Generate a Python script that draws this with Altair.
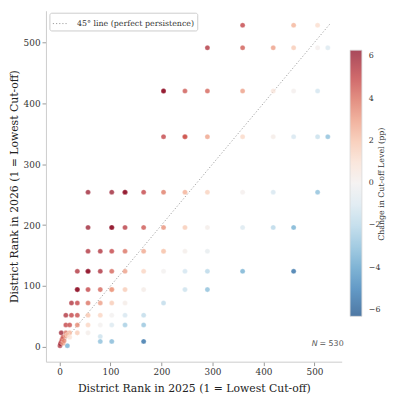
import altair as alt
import pandas as pd

# ---- data (rank 2025, rank 2026, change in cut-off pp) ----
x_rank_2025 = [
    359, 459, 506,
    290, 359, 419, 459, 506, 526,
    204, 204, 246, 290, 359, 419, 459, 506,
    204, 246, 246, 290, 359, 419, 459, 506, 526,
    56, 102.5, 128.5, 128.5, 165, 204, 246, 290, 359, 419, 506,
    56, 102.5, 102.5, 128.5, 165, 204, 246, 290, 359, 419, 459,
    56, 80, 102.5, 128.5, 165, 204, 204, 246, 290,
    35, 56, 56, 80, 102.5, 128.5, 165, 204, 246, 290, 359, 459,
    35, 35, 56, 80, 102.5, 102.5, 128.5, 165, 246, 290,
    23.5, 35, 56, 80, 102.5, 128.5, 204,
    12.5, 23.5, 35, 56, 80, 102.5, 128.5, 165,
    12.5, 20, 35, 56, 80, 102.5, 128.5, 165,
    3.5, 12.5, 20, 35, 56,
    80, 80, 102.5, 165, 15.5,
    1, 2, 3.5, 5, 7, 7, 9, 12.5, 15.5, 20,
]
y_rank_2026 = [
    528, 528, 528,
    491, 491, 491, 491, 491, 491,
    420, 420, 420, 420, 420, 420, 420, 420,
    345, 345, 345, 345, 345, 345, 345, 345, 345,
    254, 254, 254, 254, 254, 254, 254, 254, 254, 254, 254,
    196, 196, 196, 196, 196, 196, 196, 196, 196, 196, 196,
    157, 157, 157, 157, 157, 157, 157, 157, 157,
    124, 124, 124, 124, 124, 124, 124, 124, 124, 124, 124, 124,
    94, 94, 94, 94, 94, 94, 94, 94, 94, 94,
    72, 72, 72, 72, 72, 72, 72,
    52, 52, 52, 52, 52, 52, 52, 52,
    36, 36, 36, 36, 36, 36, 36, 36,
    23, 23, 23, 23, 23,
    17, 9, 9, 9, 2,
    2, 5, 8, 12, 16, 6, 10, 18, 20, 16,
]
change_pp = [
    5.0, 2.5, 1.2,
    5.5, 4.5, 3.0, 1.8, 0.1, -1.0,
    6.2, 6.2, 4.6, 4.3, 3.0, 0.8, 0.1, -1.3,
    5.0, 4.5, 4.5, 2.9, 1.4, 0.3, -1.2, -1.6, -3.0,
    6.0, 6.0, 6.2, 6.2, 5.0, 3.8, 2.6, 1.6, 0.1, -1.2, -3.0,
    6.0, 6.2, 6.2, 5.3, 4.6, 3.3, 1.8, 0.2, -1.0, -2.0, -3.5,
    5.5, 5.5, 5.0, 4.0, 2.8, 1.8, 1.8, 0.2, -0.5,
    5.5, 6.2, 6.2, 5.6, 4.3, 3.0, 1.5, 0.0, -1.3, -2.0, -3.5, -5.5,
    6.2, 6.2, 5.0, 4.3, 3.0, 3.0, 1.8, 0.3, -1.5, -3.0,
    5.5, 5.0, 4.0, 3.0, 1.8, 0.3, -1.8,
    5.5, 5.0, 4.8, 2.0, 1.5, 0.0, -1.2, -1.8,
    5.0, 4.8, 3.5, 1.5, 0.0, -1.0, -2.5, -2.8,
    6.0, 4.0, 2.5, 1.8, 0.2,
    -1.5, -3.0, -3.2, -5.5, -3.5,
    5.5, 6.0, 5.0, 4.5, 4.5, 3.0, 3.5, 3.0, 2.0, 1.0,
]

diag_x = [0, 530]
diag_y = [0, 530]
diag_label = ["45° line (perfect persistence)"] * 2

x_ticks = [0, 100, 200, 300, 400, 500]
y_ticks = [0, 100, 200, 300, 400, 500]
cbar_ticks = [-6, -4, -2, 0, 2, 4, 6]
cbar_title = ["Change in Cut-off Level (pp)"]
n_label = ["= 530"]

FONT = "DejaVu Serif"

df = pd.DataFrame({"x": x_rank_2025, "y": y_rank_2026, "c": change_pp})
diag_df = pd.DataFrame({"x": diag_x, "y": diag_y, "label": diag_label})

xs = alt.Scale(domain=[-26.5, 553.2], nice=False, zero=False)
ys = alt.Scale(domain=[-24.3, 551.8], nice=False, zero=False)

diag = alt.Chart(diag_df).mark_line(color="#a0a0a0", strokeWidth=1).encode(
    x=alt.X("x:Q", scale=xs),
    y=alt.Y("y:Q", scale=ys),
    strokeDash=alt.StrokeDash(
        "label:N",
        scale=alt.Scale(range=[[1.2, 2]]),
        legend=alt.Legend(
            orient="none", legendX=3.5, legendY=2, title=None,
            fillColor="white", strokeColor="#cccccc", padding=3, cornerRadius=2,
            labelFont=FONT, labelFontSize=8, labelColor="#333333",
            symbolType="stroke", symbolSize=225, symbolStrokeColor="#a0a0a0",
            symbolStrokeWidth=1, labelOffset=9,
        ),
    ),
)

points = alt.Chart(df).mark_circle(size=26, opacity=0.75, stroke="white", strokeWidth=0.3).encode(
    x=alt.X("x:Q", scale=xs,
            axis=alt.Axis(values=x_ticks, title="District Rank in 2025 (1 = Lowest Cut-off)",
                          titlePadding=6)),
    y=alt.Y("y:Q", scale=ys,
            axis=alt.Axis(values=y_ticks, title="District Rank in 2026 (1 = Lowest Cut-off)")),
    color=alt.Color(
        "c:Q",
        scale=alt.Scale(scheme="redblue", reverse=True, domain=[-6.3, 6.3]),
        legend=alt.Legend(
            orient="none", legendX=308.5, legendY=40, direction="vertical",
            gradientLength=270, gradientThickness=12, values=cbar_ticks,
            title=None, gradientOpacity=0.75,
            labelFont=FONT, labelFontSize=8, labelColor="#333333", labelOffset=7,
            gradientStrokeColor="#cccccc", gradientStrokeWidth=0.8, padding=0,
        ),
    ),
)

cbar_label = alt.Chart(pd.DataFrame({"t": cbar_title})).mark_text(
    align="center", baseline="middle", font=FONT, fontSize=8, angle=270, color="#333333",
).encode(x=alt.value(341), y=alt.value(176), text="t:N")

n_italic = alt.Chart(pd.DataFrame({"t": ["N"]})).mark_text(
    align="right", baseline="middle", font="DejaVu Sans", fontSize=8,
    fontStyle="italic", color="#555555",
).encode(x=alt.value(275.5), y=alt.value(337.7), text="t:N")

n_text = alt.Chart(pd.DataFrame({"t": n_label})).mark_text(
    align="left", baseline="middle", font="DejaVu Sans", fontSize=8, color="#555555",
).encode(x=alt.value(277.5), y=alt.value(337.7), text="t:N")

chart = alt.layer(diag, points, cbar_label, n_italic, n_text).properties(
    width=300, height=356,
    autosize=alt.AutoSizeParams(type="none"),
    padding={"left": 38.5, "top": 0, "right": 48, "bottom": 31},
    background="white",
).configure_view(stroke=None).configure_axis(
    grid=False, domainColor="#cccccc", domainWidth=1, tickColor="#999999",
    tickSize=4, labelPadding=2, labelFont=FONT, labelFontSize=9, labelColor="#333333",
    titleFont=FONT, titleFontSize=11, titleFontWeight="normal", titleColor="#222222",
    titlePadding=4,
)

chart.save("out.html", embed_options={"renderer": "svg", "actions": False})
